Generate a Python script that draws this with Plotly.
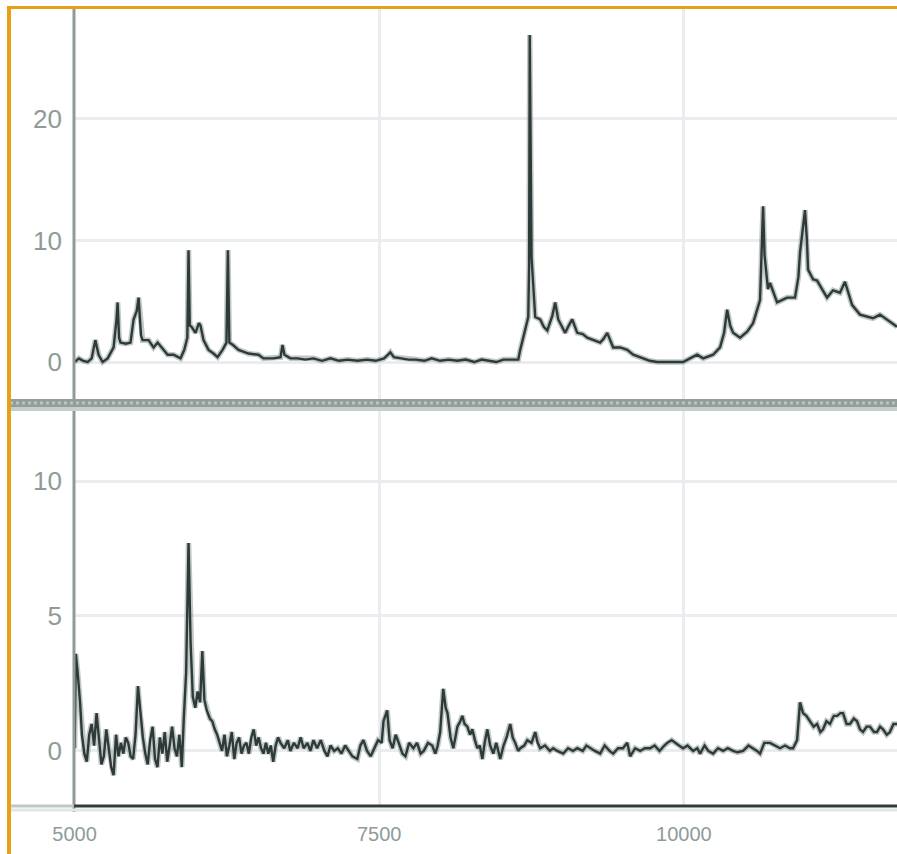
import plotly.graph_objects as go
from plotly.subplots import make_subplots

# top panel series
top_x = [5000, 5035, 5070, 5107, 5140, 5170, 5197, 5230, 5271, 5300, 5320, 5344, 5353, 5365, 5377,
         5420, 5459, 5484, 5510, 5525, 5545, 5558, 5607, 5648, 5681, 5730, 5763, 5812, 5869, 5900,
         5925, 5935, 5945, 5960, 5992, 6020, 6033, 6058, 6099, 6140, 6173, 6214, 6246, 6258, 6270,
         6300, 6345, 6427, 6509, 6550, 6632, 6690, 6706, 6722, 6771, 6829, 6894, 6960, 7030, 7100,
         7170, 7240, 7320, 7400, 7470, 7540, 7575, 7591, 7620, 7680, 7740, 7800, 7870, 7930, 8000,
         8070, 8140, 8210, 8280, 8340, 8400, 8460, 8520, 8620, 8641, 8657, 8698, 8723, 8730, 8735,
         8750, 8780, 8821, 8850, 8879, 8920, 8944, 8969, 9000, 9026, 9055, 9084, 9125, 9170, 9207,
         9260, 9313, 9340, 9371, 9420, 9477, 9535, 9584, 9666, 9720, 9781, 9863, 9930, 9994, 10050,
         10109, 10158, 10240, 10297, 10330, 10355, 10380, 10404, 10461, 10519, 10568, 10625, 10642,
         10650, 10662, 10690, 10707, 10765, 10847, 10912, 10940, 10953, 10994, 11010, 11019, 11060,
         11093, 11175, 11224, 11281, 11322, 11380, 11445, 11510, 11552, 11609, 11691, 11749]
top_y = [0.0, 0.3, 0.1, 0.0, 0.3, 1.8, 0.6, 0.0, 0.3, 0.8, 1.2, 3.5, 4.9, 2.0, 1.6,
         1.5, 1.6, 3.5, 4.2, 5.3, 2.2, 1.8, 1.8, 1.2, 1.6, 1.0, 0.6, 0.6, 0.3, 1.0,
         2.0, 9.2, 3.0, 2.9, 2.4, 3.2, 3.0, 1.8, 1.0, 0.7, 0.4, 1.0, 1.6, 9.2, 1.6,
         1.4, 1.0, 0.7, 0.6, 0.3, 0.3, 0.4, 1.4, 0.6, 0.3, 0.3, 0.2, 0.3, 0.1, 0.3,
         0.1, 0.2, 0.1, 0.2, 0.1, 0.3, 0.6, 0.8, 0.4, 0.3, 0.2, 0.2, 0.1, 0.3, 0.1,
         0.2, 0.1, 0.2, 0.0, 0.2, 0.1, 0.0, 0.2, 0.2, 0.2, 1.0, 2.6, 3.7, 8.0, 26.9,
         8.6, 3.7, 3.5, 2.9, 2.6, 3.8, 4.9, 3.5, 2.9, 2.4, 3.0, 3.5, 2.4, 2.3, 2.0,
         1.8, 1.6, 1.9, 2.4, 1.2, 1.2, 1.0, 0.6, 0.3, 0.1, 0.0, 0.0, 0.0, 0.0, 0.3,
         0.6, 0.3, 0.6, 1.2, 2.4, 4.3, 3.0, 2.4, 2.0, 2.5, 3.2, 5.1, 10.0,
         12.8, 8.8, 6.0, 6.5, 4.9, 5.3, 5.3, 7.0, 9.0, 12.5, 10.0, 7.6, 6.8,
         6.7, 5.3, 5.9, 5.7, 6.6, 4.7, 3.9, 3.7, 3.6, 3.9, 3.3, 2.9]

# bottom panel series
bot_x = [5000, 5010, 5025, 5045, 5060, 5080, 5100, 5120, 5140, 5160, 5180, 5200, 5220, 5240, 5260,
         5280, 5300, 5320, 5340, 5360, 5380, 5400, 5420, 5440, 5460, 5480, 5500, 5520, 5540, 5560,
         5580, 5600, 5620, 5640, 5660, 5680, 5700, 5720, 5740, 5760, 5780, 5800, 5820, 5840, 5860,
         5880, 5895, 5915, 5935, 5952, 5970, 5990, 6010, 6030, 6048, 6065, 6085, 6110, 6130, 6150,
         6170, 6190, 6210, 6230, 6250, 6270, 6290, 6310, 6330, 6350, 6370, 6390, 6410, 6430, 6450,
         6470, 6490, 6510, 6530, 6550, 6570, 6590, 6610, 6630, 6650, 6670, 6690, 6720, 6750, 6770,
         6800, 6830, 6855, 6880, 6910, 6935, 6960, 6990, 7020, 7050, 7075, 7100, 7130, 7160, 7190,
         7220, 7250, 7280, 7320, 7345, 7370, 7400, 7430, 7460, 7490, 7520, 7535, 7565, 7585, 7610,
         7635, 7660, 7690, 7715, 7745, 7780, 7810, 7840, 7865, 7900, 7935, 7960, 7980, 8000, 8025,
         8045, 8060, 8085, 8108, 8125, 8141, 8165, 8182, 8200, 8223, 8245, 8264, 8285, 8305, 8325,
         8346, 8365, 8387, 8410, 8436, 8460, 8493, 8520, 8545, 8575, 8595, 8616, 8640, 8657, 8690,
         8715, 8750, 8780, 8800, 8821, 8860, 8900, 8928, 8960, 9010, 9050, 9090, 9125, 9170, 9200,
         9231, 9270, 9313, 9350, 9390, 9420, 9460, 9500, 9535, 9559, 9600, 9641, 9680, 9723, 9760,
         9800, 9840, 9863, 9900, 9928, 9960, 9994, 10030, 10076, 10110, 10133, 10170, 10200, 10240,
         10280, 10322, 10360, 10404, 10440, 10486, 10530, 10568, 10600, 10625, 10660, 10707, 10750,
         10789, 10830, 10870, 10896, 10929, 10953, 10978, 11005, 11035, 11065, 11093, 11120, 11142,
         11170, 11199, 11230, 11257, 11285, 11306, 11335, 11363, 11395, 11421, 11445, 11470, 11500,
         11527, 11560, 11585, 11610, 11634, 11665, 11691, 11720, 11749]
bot_y = [0.1, 3.6, 2.9, 1.8, 0.6, -0.1, -0.4, 0.6, 1.0, 0.2, 1.4, 0.3, -0.5, -0.2, 0.8,
         0.1, -0.6, -0.9, 0.6, -0.2, 0.3, -0.1, 0.5, 0.3, -0.2, -0.3, 0.6, 2.4, 1.3, 0.5,
         -0.1, -0.5, 0.4, 0.9, -0.3, -0.6, 0.5, -0.1, 0.7, -0.4, 0.2, 0.9, 0.1, -0.2, 0.6,
         -0.6, 1.1, 2.9, 7.7, 4.0, 2.0, 1.6, 2.2, 1.8, 3.7, 1.9, 1.5, 1.2, 1.1, 0.8,
         0.6, 0.3, 0.0, 0.6, -0.2, 0.2, 0.7, -0.3, 0.3, 0.5, -0.1, 0.2, 0.3, -0.1, 0.5,
         0.8, 0.2, 0.5, 0.1, -0.1, 0.3, -0.1, 0.2, -0.4, 0.2, 0.5, 0.3, 0.1, 0.4, 0.0,
         0.3, 0.1, 0.5, 0.1, 0.3, 0.0, 0.4, 0.1, 0.4, 0.0, -0.2, 0.2, 0.0, 0.1, -0.1,
         0.2, 0.0, -0.2, -0.3, 0.2, 0.4, 0.0, -0.2, 0.1, 0.4, 0.3, 1.1, 1.5, 0.4, 0.1,
         0.6, 0.3, -0.1, -0.2, 0.3, 0.1, 0.3, -0.1, 0.0, 0.3, 0.2, -0.1, 0.2, 0.7, 2.3,
         1.6, 1.4, 0.5, 0.1, 0.5, 0.9, 1.1, 1.3, 1.0, 0.9, 0.6, 0.8, 0.4, 0.1, 0.2,
         -0.3, 0.3, 0.8, 0.2, -0.1, 0.3, -0.3, 0.2, 0.5, 1.0, 0.5, 0.3, 0.0, 0.1, 0.2,
         0.4, 0.3, 0.7, 0.3, 0.1, 0.2, 0.0, 0.1, 0.0, -0.1, 0.1, 0.0, 0.1, 0.0, 0.2,
         0.1, 0.0, -0.1, 0.2, 0.0, -0.1, 0.1, 0.1, 0.3, -0.2, 0.1, 0.0, 0.1, 0.1, 0.2,
         0.0, 0.2, 0.3, 0.4, 0.3, 0.2, 0.1, 0.2, 0.0, 0.1, -0.1, 0.2, 0.0, -0.1,
         0.1, 0.0, 0.1, 0.0, -0.05, 0.0, 0.2, 0.1, 0.0, -0.1, 0.3, 0.3, 0.2,
         0.1, 0.2, 0.1, 0.1, 0.4, 1.8, 1.4, 1.3, 1.1, 0.9, 1.0, 0.7, 0.8,
         1.1, 1.0, 1.3, 1.3, 1.4, 1.4, 1.0, 1.0, 1.2, 1.1, 0.8, 0.7, 0.9,
         0.9, 0.7, 0.7, 0.9, 0.8, 0.6, 0.7, 1.0, 1.0]

x_ticks = [5000, 7500, 10000]
x_ticktext = ['5000', '7500', '10000']
top_ticks = [0, 10, 20]
bot_ticks = [0, 5, 10]

W, H = 897, 854
ML, MT, MB = 74, 7, 48
pw = W - ML
ph = H - MT - MB

def px(x):   # pixel x -> paper
    return (x - ML) / pw

def py(y):   # pixel y -> paper
    return (H - MB - y) / ph

fig = make_subplots(rows=2, cols=1, shared_xaxes=True, vertical_spacing=0.0)

halo = 'rgba(150,164,160,0.6)'
dark = '#2e3939'
for xs, ys, r in [(top_x, top_y, 1), (bot_x, bot_y, 2)]:
    fig.add_trace(go.Scatter(x=xs, y=ys, mode='lines', line=dict(color=halo, width=5.5),
                             hoverinfo='skip', showlegend=False), row=r, col=1)
    fig.add_trace(go.Scatter(x=xs, y=ys, mode='lines', line=dict(color=dark, width=2.4),
                             showlegend=False), row=r, col=1)

grid = '#ebecf0'
tickfont_y = dict(family='Liberation Sans, Arial', size=26, color='#8e9b98')
tickfont_x = dict(family='Liberation Sans, Arial', size=20, color='#8e9b98')

fig.update_xaxes(range=[4995, 11749], tickvals=x_ticks, ticktext=x_ticktext, showgrid=True,
                 gridcolor=grid, gridwidth=3, zeroline=False, showline=False)
fig.update_xaxes(showticklabels=False, row=1, col=1)
fig.update_xaxes(tickfont=tickfont_x, ticks='', ticklabelstandoff=14, row=2, col=1)

fig.update_yaxes(showgrid=True, gridcolor=grid, gridwidth=3, zeroline=False, showline=False,
                 tickfont=tickfont_y, ticks='', ticklabelstandoff=11)
fig.update_yaxes(range=[-3.33, 29.2], tickvals=top_ticks, row=1, col=1)
fig.update_yaxes(range=[-2.04, 12.76], tickvals=bot_ticks, row=2, col=1)

fig.layout.yaxis.domain = [0.505, 1.0]
fig.layout.yaxis2.domain = [0.0, 0.5]

shapes = []
def hline(y, x0, x1, color, width, dash=None):
    ln = dict(color=color, width=width)
    if dash:
        ln['dash'] = dash
    shapes.append(dict(type='line', xref='paper', yref='paper', x0=px(x0), x1=px(x1),
                       y0=py(y), y1=py(y), line=ln, layer='above'))

def vline(x, y0, y1, color, width):
    shapes.append(dict(type='line', xref='paper', yref='paper', x0=px(x), x1=px(x),
                       y0=py(y0), y1=py(y1), line=dict(color=color, width=width), layer='above'))

# y axis line
vline(74, 7, 812, '#8e9b98', 3)
# panel divider
hline(409, 10, 897, '#c6cecc', 4)
hline(403, 10, 897, '#939e9a', 8)
hline(403, 10, 897, '#b9c3c0', 3, 'dot')
# bottom axis line
hline(810, 10, 897, '#e2e6e6', 3)
hline(806, 10, 74, '#c0c8c6', 3)
hline(806, 74, 897, '#303b3b', 3)
# orange frame
hline(7.5, 7, 897, '#e6a117', 3)
vline(9, 6, 854, '#e6a117', 4)

fig.update_layout(width=W, height=H, margin=dict(l=ML, r=0, t=MT, b=MB),
                  paper_bgcolor='white', plot_bgcolor='white', shapes=shapes,
                  showlegend=False)

fig.write_html('out.html', config={'displayModeBar': False},
               post_script="document.body.style.margin='0';")
